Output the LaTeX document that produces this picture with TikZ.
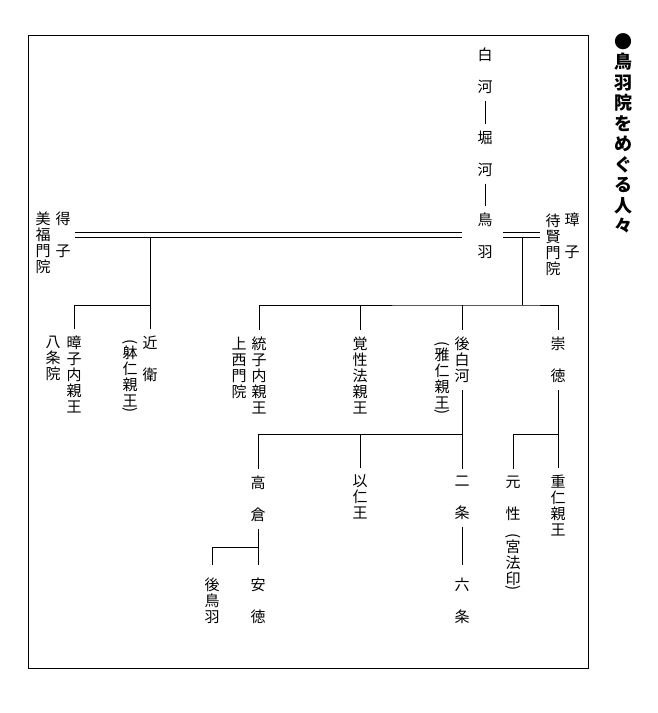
\documentclass[tikz,border=0pt]{standalone}
\usepackage{fontspec}
\newfontfamily\jp{Noto Sans CJK JP}
\usetikzlibrary{positioning, calc}
\tikzset{
  tate/.style={font=\jp\fontsize{15pt}{16pt}\selectfont, align=center, inner sep=0pt, outer ysep=7pt, anchor=north},
  tatewide/.style={tate, font=\jp\fontsize{15pt}{32pt}\selectfont},
  low/.style={outer ysep=13pt},
  title/.style={font=\jp\bfseries\fontsize{18pt}{20.5pt}\selectfont, align=center, inner sep=0pt, anchor=north},
  line/.style={line width=0.7pt},
  wedding/.style={draw, line width=0.8pt, double, double distance=3.8pt},
}
\newcommand{\kakko}{\rotatebox[origin=c]{-90}{(}}
\newcommand{\kokka}{\rotatebox[origin=c]{-90}{)}}

\begin{document}
\begin{tikzpicture}[x=1pt, y=-1pt]
\useasboundingbox (0,0) rectangle (658,713);
%% frame and title
  \draw[line width=0.8pt] (28,35) rectangle (588,668);
	\node[title] (title) at (623,33) {●\\鳥\\羽\\院\\を\\め\\ぐ\\る\\人\\々};
%% Shirakawa, Horikawa, Toba
	\node[tatewide] (shirakawa) at (485,41) {白\\河};
	\node[tatewide] (horikawa) at (485,124) {堀\\河};
	\node[tatewide] (toba) at (485,206) {鳥\\羽};
  \draw[line] (shirakawa.south) -- (horikawa.north);
  \draw[line] (horikawa.south) -- (toba.north);
%% consorts
	\node[tatewide] (tokushi) at (63,205) {得\\子};
	\node[tate] (bifuku) at (43,205) {美\\福\\門\\院};
	\node[tatewide] (shoshi) at (572,206) {璋\\子};
	\node[tate] (taiken) at (553,207) {待\\賢\\門\\院};
  \draw[wedding, shorten <=4pt, shorten >=15pt] (tokushi.east) -- (tokushi.east -| toba.west);
  \draw[wedding, shorten <=10pt, shorten >=5pt] (tokushi.east -| toba.east) -- (tokushi.east -| taiken.west);
%% children of Tokushi
	\node[tatewide] (konoe) at (150,329) {近\\衛};
	\node[tate] (narihito) at (130,332) {\kakko\\[-3.5pt]躰\\仁\\親\\王\\[-8pt]\kokka};
	\node[tate] (akiko) at (74,329) {暲\\子\\内\\親\\王};
	\node[tate] (hachijo) at (53,329) {八\\条\\院};
  \coordinate (ml) at ($(tokushi.east -| konoe.north)+(0,2.3)$);
  \coordinate (jl) at (150,305);
  \draw[line] (ml) -- (konoe.north);
  \draw[line] (jl) -| (akiko.north);
%% children of Shoshi
	\node[tate] (toshi) at (259,330) {統\\子\\内\\親\\王};
	\node[tate] (josei) at (239,330) {上\\西\\門\\院};
	\node[tate] (kakusho) at (360,330) {覚\\性\\法\\親\\王};
	\node[tate] (goshirakawa) at (462,330) {後\\白\\河};
	\node[tate] (masahito) at (442,334) {\kakko\\[-3.5pt]雅\\仁\\親\\王\\[-8pt]\kokka};
	\node[tatewide] (sutoku) at (558,330) {崇\\徳};
  \coordinate (jr) at (522,305);
  \coordinate (mr) at ($(tokushi.east -| jr)+(0,2.3)$);
  \draw[line] (mr) -- (jr);
  \draw[line] (toshi.north) |- (jr) -| (sutoku.north);
  \draw[line] (kakusho.north) -- (kakusho.north |- jr);
  \draw[line] (goshirakawa.north) -- (goshirakawa.north |- jr);
%% children of Go-Shirakawa
	\node[tatewide] (takakura) at (258,469) {高\\倉};
	\node[tate] (mochihito) at (360,468) {以\\仁\\王};
	\node[tatewide] (nijo) at (462,469) {二\\条};
  \coordinate (jg) at (462,434);
  \draw[line] (goshirakawa.south) -- (nijo.north);
  \draw[line] (takakura.north) |- (jg);
  \draw[line] (mochihito.north) -- (mochihito.north |- jg);
%% children of Sutoku
	\node[tatewide] (gensho) at (513,469) {元\\性};
	\node[tate] (miyahoin) at (513,526) {\kakko\\[-3.5pt]宮\\法\\印\\[-8pt]\kokka};
	\node[tate] (shigehito) at (558,468) {重\\仁\\親\\王};
  \coordinate (js) at (sutoku.south |- jg);
  \draw[line] (sutoku.south) -- (shigehito.north);
  \draw[line] (gensho.north) |- (js);
%% grandchildren
	\node[tatewide, low] (antoku) at (258,565) {安\\徳};
	\node[tate, low] (gotoba) at (212,565) {後\\鳥\\羽};
	\node[tatewide, low] (rokujo) at (462,565) {六\\条};
  \coordinate (jt) at (258,547);
  \draw[line] (takakura.south) -- (antoku.north);
  \draw[line] (gotoba.north) |- (jt);
  \draw[line] (nijo.south) -- (rokujo.north);
\end{tikzpicture}
\end{document}
